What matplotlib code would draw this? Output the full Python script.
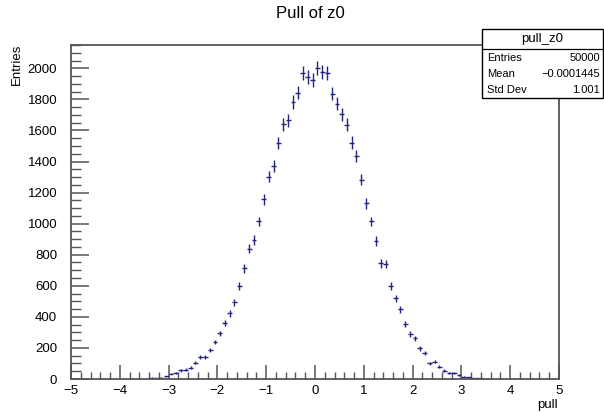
import numpy as np
import matplotlib
matplotlib.use('Agg')
import matplotlib.pyplot as plt
from matplotlib.patches import Rectangle
from matplotlib.lines import Line2D
from matplotlib.ticker import MultipleLocator

plt.rcParams['font.family'] = ['Liberation Sans', 'DejaVu Sans']

# bin centres (width 0.1) of the non-empty bins
centers = np.round(np.arange(-3.65, 3.66, 0.1), 2)
entries = [1, 1, 2, 8, 6, 9, 18, 35, 41, 55,
           60, 73, 105, 143, 143, 186, 238, 294, 358, 422,
           493, 600, 712, 840, 895, 1014, 1156, 1301, 1370, 1520,
           1639, 1666, 1783, 1844, 1970, 1944, 1923, 2000, 1976, 1972,
           1837, 1773, 1704, 1638, 1522, 1434, 1284, 1130, 1014, 888,
           744, 740, 600, 519, 448, 352, 289, 262, 197, 169,
           101, 111, 79, 54, 41, 37, 26, 15, 11, 4,
           4, 2, 2, 1]
bin_width = 0.1
x_ticks = [-5, -4, -3, -2, -1, 0, 1, 2, 3, 4, 5]
y_ticks = list(range(0, 2001, 200))
stats_names = ['Entries', 'Mean', 'Std Dev']
stats_vals = ['50000', '\u22120.0001445', '1.001']

fig = plt.figure(figsize=(6.04, 4.12), dpi=100)
ax = fig.add_axes([71/604, 1-379/412, 488/604, 334/412])

y = np.array(entries, dtype=float)
col = '#232380'
ax.errorbar(centers, y, yerr=np.sqrt(y), xerr=bin_width/2, fmt='none',
            ecolor=col, elinewidth=1.0, capsize=0)

ax.set_xlim(-5, 5)
ax.set_ylim(0, 2150)
ax.set_xticks(x_ticks)
ax.set_yticks(y_ticks)
ax.xaxis.set_minor_locator(MultipleLocator(0.2))
ax.yaxis.set_minor_locator(MultipleLocator(50))
ax.tick_params(axis='both', which='both', direction='in', colors='#555555',
               labelcolor='black', labelsize=9.5, top=False, right=False)
ax.tick_params(axis='x', which='major', length=10, width=1.1, pad=4)
ax.tick_params(axis='x', which='minor', length=5, width=1.0)
ax.tick_params(axis='y', which='major', length=13, width=1.1, pad=10)
ax.tick_params(axis='y', which='minor', length=7, width=1.0)
for s in ax.spines.values():
    s.set_color('#555555')
    s.set_linewidth(1.3)

fig.text(310/604, 1-14/412, 'Pull of z0', ha='center', va='center', fontsize=12)
fig.text(17/604, 1-44/412, 'Entries', ha='center', va='top', rotation=90, fontsize=9.5)
fig.text(558/604, 1-405/412, 'pull', ha='right', va='center', fontsize=9.5)

# stats box
bx0, by0, bx1, by1 = 482, 29, 603, 98
fig.patches.append(Rectangle((bx0/604, 1-by1/412), (bx1-bx0)/604, (by1-by0)/412,
                             transform=fig.transFigure, facecolor='white',
                             edgecolor='black', linewidth=1.0, zorder=5))
fig.lines.append(Line2D([bx0/604, bx1/604], [1-49/412, 1-49/412],
                        transform=fig.transFigure, color='black', linewidth=0.9, zorder=6))
fig.text((bx0+bx1)/2/604, 1-39/412, 'pull_z0', ha='center', va='center', fontsize=9.5, zorder=7)
for i, (n, v) in enumerate(zip(stats_names, stats_vals)):
    yy = 1 - (58 + 16*i)/412
    fig.text(487/604, yy, n, ha='left', va='center', fontsize=8, zorder=7)
    fig.text(600/604, yy, v, ha='right', va='center', fontsize=8, zorder=7)

fig.savefig('out.png', dpi=100)
